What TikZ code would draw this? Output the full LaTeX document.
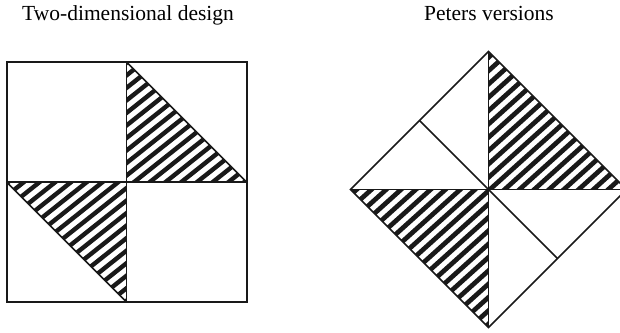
\documentclass[tikz,border=0pt]{standalone}
\usepackage{fontspec}
\setmainfont{Liberation Serif}
\usetikzlibrary{calc}
\begin{document}
\begin{tikzpicture}[x=1pt,y=-1pt,
  frame/.style={draw=black!90,line width=2pt},
  inner/.style={draw=black!90,line width=1.5pt},
  stripeL/.style={draw=black!90,line width=4.4pt},
  stripeR/.style={draw=black!90,line width=4.7pt},
  title/.style={anchor=base west,inner sep=0pt,font=\fontsize{21.5}{25}\selectfont}]
\useasboundingbox (0,0) rectangle (620,332);
\node[title] (t1) at (22,20) {Two-dimensional design};
\node[title] (t2) at (424,20) {Peters versions};
% ---- left square ----
\def\aL{38.5}
\begin{scope}
  \clip (126.5,62) -- (126.5,182) -- (246.5,182) -- cycle;
  \foreach \k in {49.55,59.35,...,400}
    \draw[stripeL] ({\k*sin(\aL)-800*cos(\aL)},{\k*cos(\aL)+800*sin(\aL)}) -- ({\k*sin(\aL)+800*cos(\aL)},{\k*cos(\aL)-800*sin(\aL)});
\end{scope}
\begin{scope}
  \clip (6.5,182) -- (126.5,182) -- (126.5,302) -- cycle;
  \foreach \k in {49.55,59.35,...,400}
    \draw[stripeL] ({\k*sin(\aL)-800*cos(\aL)},{\k*cos(\aL)+800*sin(\aL)}) -- ({\k*sin(\aL)+800*cos(\aL)},{\k*cos(\aL)-800*sin(\aL)});
\end{scope}
\draw[inner] (6.5,182) -- (126.5,302);
\draw[inner] (126.5,62) -- (246.5,182);
\draw[inner] (126.5,62) -- (126.5,302);
\draw[inner] (6.5,182) -- (246.5,182);
\draw[frame] (6.5,62) rectangle (246.5,302);
% ---- right diamond ----
\coordinate (C) at (488.5,189.5);
\coordinate (T) at (488.5,51.5);
\coordinate (B) at (488.5,327.5);
\coordinate (L) at (350.5,189.5);
\coordinate (R) at (626.5,189.5);
\def\aR{42}
\begin{scope}
  \clip (T) -- (C) -- (R) -- cycle;
  \foreach \k in {270.6,280.5,...,680}
    \draw[stripeR] ({\k*sin(\aR)-800*cos(\aR)},{\k*cos(\aR)+800*sin(\aR)}) -- ({\k*sin(\aR)+800*cos(\aR)},{\k*cos(\aR)-800*sin(\aR)});
\end{scope}
\begin{scope}
  \clip (L) -- (C) -- (B) -- cycle;
  \foreach \k in {270.6,280.5,...,680}
    \draw[stripeR] ({\k*sin(\aR)-800*cos(\aR)},{\k*cos(\aR)+800*sin(\aR)}) -- ({\k*sin(\aR)+800*cos(\aR)},{\k*cos(\aR)-800*sin(\aR)});
\end{scope}
\draw[inner] (T) -- (R) -- (B) -- (L) -- cycle;
\draw[inner] (T) -- (B);
\draw[inner] (L) -- (R);
\draw[inner] (C) -- ($(L)!0.5!(T)$);
\draw[inner] (C) -- ($(R)!0.5!(B)$);
\end{tikzpicture}
\end{document}
